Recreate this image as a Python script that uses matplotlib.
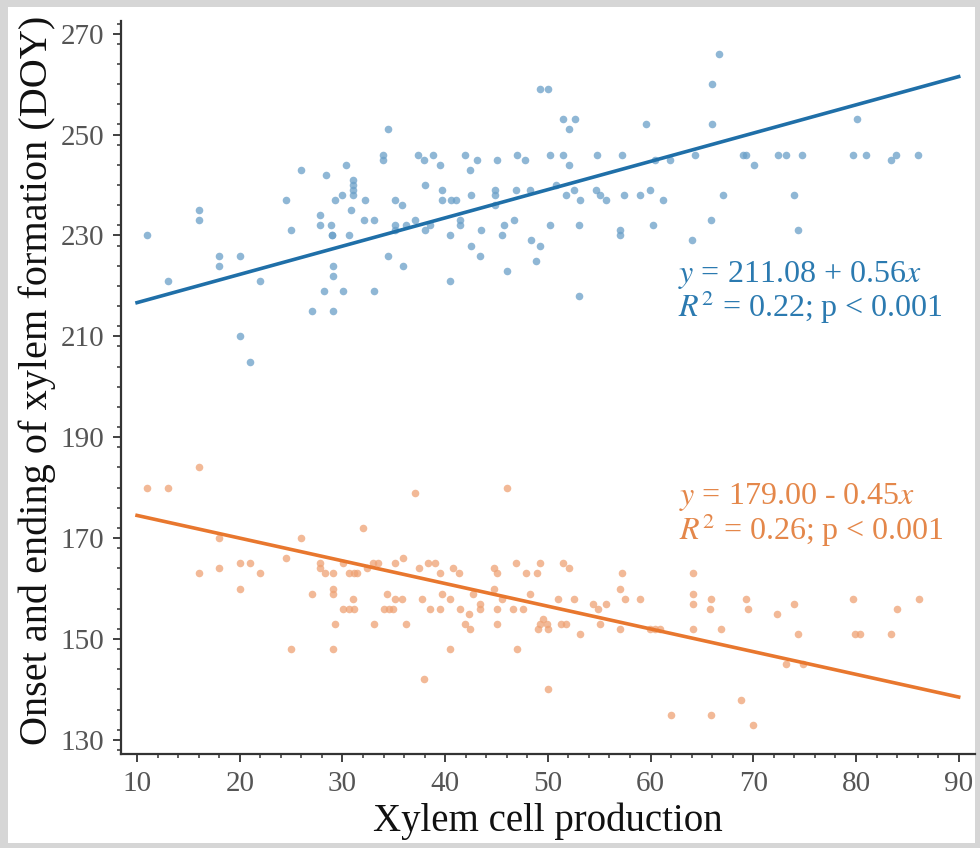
import numpy as np
import matplotlib.pyplot as plt
from matplotlib.patches import Rectangle
from matplotlib.ticker import MultipleLocator

# Onset of xylem formation (blue)
onset_x = [11, 13, 16, 16, 18, 18, 20, 20, 21, 22, 24.5, 25, 26, 27, 27.8, 27.8,
           28.4, 28.9, 29, 29, 29.1, 29.1, 28.2, 29.1, 29.3, 30, 30.3, 30.6, 30.1, 30.8,
           31, 31, 31, 31, 32.2, 32.1, 33.1, 33.1, 33.9, 33.9, 34.4, 34.4, 35.1, 35.8,
           35.1, 35.1, 35.9, 36.2, 37.1, 37.4,
           49.2, 50, 51.5, 52.6, 52.1, 59.6,
           37.9, 38.8, 39.5, 41.9, 43.1, 42.4, 45, 47, 47.8, 50.2, 51.5, 52.1, 54.8,
           57.2, 60.4, 61.9,
           38, 39.7, 39.7, 40.6, 41.1, 42.5, 44.9, 44.9, 44.9, 46.9, 48.3, 50.8, 51.8,
           52.5, 53.1, 54.7, 55.1, 55.7, 57.4, 59, 59.9, 61.2,
           38, 38.5, 40.5, 41.4, 41.4, 43.5, 42.5, 43.4, 45.5, 45.7, 46.7, 46, 48.4,
           49.2, 48.8, 50.2, 53, 53.05, 57, 57, 60.25, 64, 40.5,
           66.7, 66, 66, 80.1, 64.3, 69, 69.3, 70.1, 72.4, 73.2, 74.7, 79.7, 81, 83.4,
           83.9, 86, 67.1, 74, 65.9, 74.4]
onset_y = [230, 221, 235, 233, 226, 224, 226, 210, 205, 221, 237, 231, 243, 215, 234, 232,
           242, 232, 230, 230, 224, 222, 219, 215, 237, 238, 244, 230, 219, 235,
           241, 240, 239, 238, 237, 233, 233, 219, 246, 245, 251, 226, 237, 236,
           232, 231, 224, 232, 233, 246,
           259, 259, 253, 253, 251, 252,
           245, 246, 244, 246, 245, 243, 245, 246, 245, 246, 246, 244, 246,
           246, 245, 245,
           240, 239, 237, 237, 237, 238, 239, 238, 236, 239, 239, 240, 238,
           239, 237, 239, 238, 237, 238, 238, 239, 237,
           231, 232, 230, 233, 232, 231, 228, 226, 230, 232, 233, 223, 229,
           228, 225, 232, 232, 218, 231, 230, 232, 229, 221,
           266, 260, 252, 253, 246, 246, 246, 244, 246, 246, 246, 246, 246, 245,
           246, 246, 238, 238, 233, 231]

# Ending of xylem formation (orange)
ending_x = [11, 13, 16, 16, 18, 18, 20, 21, 20, 22, 24.5, 25, 26, 27, 27.8, 27.8,
            28.3, 29.1, 29.1, 29.1, 29.3, 29.1, 30.1, 30.6, 31.1, 31.4, 31.05, 30.1,
            30.6, 31.1, 32, 32.35, 33, 33.5, 33.1, 34, 34.5, 34.95, 34.3, 35.1, 35.8,
            35.1, 35.9, 36.2, 37.1, 37.7, 37.9, 37.5, 38.35, 39, 39.5, 38.5, 39.5,
            39.7, 40.5, 40.5, 40.8, 41.3, 41.4, 41.9, 42.4, 42.3, 42.7, 43.4, 43.4,
            44.8, 45, 44.8, 45, 45, 46, 45.5, 46.9, 46.6, 47.6, 46.95, 47.9, 48.9,
            49.2, 48.25, 50, 49, 50,
            51.5, 52.1, 57.2, 57, 64.1, 51, 52.5, 54.4, 54.9, 55.7, 57.5, 59, 64.1,
            64.1, 65.9, 65.8, 69.3, 69.5, 72.35, 74, 79.7, 84, 86.1, 49.2, 49.9, 51.3,
            51.8, 53.1, 55.1, 57, 59.9, 60.4, 60.9, 64.1, 66.9, 74.4, 79.9, 80.4, 83.45,
            73.2, 74.8, 68.85, 62, 65.9, 70, 49.5]
ending_y = [180, 180, 184, 163, 170, 164, 165, 165, 160, 163, 166, 148, 170, 159, 165, 164,
            163, 163, 160, 159, 153, 148, 165, 163, 163, 163, 158, 156,
            156, 156, 172, 164, 165, 165, 153, 156, 156, 156, 159, 158, 158,
            165, 166, 153, 179, 158, 142, 164, 165, 165, 163, 156, 156,
            159, 158, 148, 164, 163, 156, 153, 152, 155, 159, 157, 156,
            164, 163, 160, 156, 153, 180, 158, 165, 156, 156, 148, 163, 163,
            165, 159, 140, 152, 152,
            165, 164, 163, 160, 163, 158, 158, 157, 156, 157, 158, 158, 159,
            157, 158, 156, 158, 156, 155, 157, 158, 156, 158, 153, 153, 153,
            153, 151, 153, 152, 152, 152, 152, 152, 152, 151, 151, 151, 151,
            145, 145, 138, 135, 135, 133, 154]

fit_x = [10, 90]
onset_fit = [211.08 + 0.56 * v for v in fit_x]
ending_fit = [179.00 - 0.45 * v for v in fit_x]

blue = '#1f6fa8'
orange = '#e8772e'

plt.rcParams['font.family'] = ['Liberation Serif', 'DejaVu Serif']
plt.rcParams['mathtext.fontset'] = 'stix'

fig = plt.figure(figsize=(9.8, 8.48), dpi=100, facecolor='#d6d6d6')
# white card behind the chart
fig.patches.append(Rectangle((8 / 980, 5 / 848), 967 / 980, 836 / 848,
                             transform=fig.transFigure, facecolor='white',
                             edgecolor='none', zorder=-5))
ax = fig.add_axes([0.1235, 0.1108, 0.8715, 0.865])
ax.set_facecolor('white')
ax.patch.set_alpha(0)

ax.scatter(onset_x, onset_y, s=30, color='#6a9fc8', alpha=0.75, linewidths=0, zorder=2)
ax.scatter(ending_x, ending_y, s=30, color='#eea274', alpha=0.75, linewidths=0, zorder=2)
ax.plot(fit_x, onset_fit, color=blue, lw=2.6, zorder=3)
ax.plot(fit_x, ending_fit, color=orange, lw=2.6, zorder=3)

ax.text(62.7, 213.8, '$y$ = 211.08 + 0.56$x$\n$R^2$ = 0.22; p < 0.001',
        color='#2b7ab0', fontsize=23, linespacing=0.92, va='baseline')
ax.text(62.8, 169.7, '$y$ = 179.00 - 0.45$x$\n$R^2$ = 0.26; p < 0.001',
        color='#e4874a', fontsize=23, linespacing=0.92, va='baseline')

ax.set_xlim(8.44, 91.6)
ax.set_ylim(127.2, 272.6)
ax.xaxis.set_major_locator(MultipleLocator(10))
ax.xaxis.set_minor_locator(MultipleLocator(2))
ax.yaxis.set_major_locator(MultipleLocator(20))
ax.yaxis.set_minor_locator(MultipleLocator(4))
ax.set_xticks(range(10, 91, 10))
ax.set_yticks(range(130, 271, 20))

for side in ['top', 'right']:
    ax.spines[side].set_visible(False)
for side in ['left', 'bottom']:
    ax.spines[side].set_color('#333333')
    ax.spines[side].set_linewidth(1.6)

ax.tick_params(which='major', length=6, width=1.3, color='#333333',
               labelsize=21, labelcolor='#555555', pad=6)
ax.tick_params(which='minor', length=3, width=1.1, color='#333333')

ax.set_xlabel('Xylem cell production', fontsize=28, color='#111111', labelpad=4)
ax.set_ylabel('Onset and ending of xylem formation (DOY)', fontsize=29,
              color='#111111')
ax.yaxis.set_label_coords(-0.076, 0.51)

fig.savefig('out.png', dpi=100, facecolor=fig.get_facecolor())
